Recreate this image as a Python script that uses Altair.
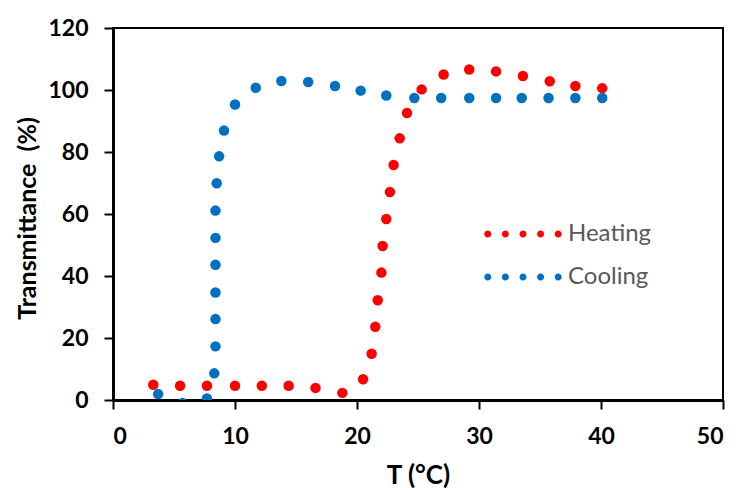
import altair as alt
import pandas as pd

# Heating series (temperature °C, transmittance %)
heat_T = [3.3, 5.5, 7.7, 10.0, 12.2, 14.4, 16.6, 18.8, 20.5, 21.2, 21.5, 21.7, 22.0,
          22.1, 22.4, 22.7, 23.0, 23.5, 24.1, 25.3, 27.1, 29.2, 31.4, 33.6, 35.8, 37.9, 40.1]
heat_Tr = [4.9, 4.6, 4.6, 4.6, 4.6, 4.6, 3.9, 2.3, 6.7, 14.9, 23.6, 32.2, 41.1,
           49.7, 58.4, 67.1, 75.8, 84.4, 92.6, 100.2, 105.0, 106.6, 106.0, 104.5, 102.8, 101.3, 100.6]

# Cooling series
cool_T = [3.7, 5.7, 7.7, 8.3, 8.4, 8.4, 8.4, 8.4, 8.4, 8.4, 8.5, 8.7, 9.1, 10.0, 11.7,
          13.8, 16.0, 18.2, 20.3, 22.4, 24.7, 26.9, 29.2, 31.4, 33.5, 35.7, 37.9, 40.1]
cool_Tr = [1.9, -1.0, 0.5, 8.6, 17.3, 26.1, 34.7, 43.6, 52.3, 61.1, 69.9, 78.6, 86.9, 95.3, 100.7,
           102.9, 102.6, 101.3, 99.8, 98.2, 97.4, 97.4, 97.4, 97.4, 97.4, 97.4, 97.4, 97.4]

series_names = ["Heating", "Cooling"]
series_colors = ["#FF0000", "#0070C0"]
x_ticks = [0, 10, 20, 30, 40, 50]
y_ticks = [0, 20, 40, 60, 80, 100, 120]

df = pd.concat([
    pd.DataFrame({"T": heat_T, "Tr": heat_Tr, "series": "Heating"}),
    pd.DataFrame({"T": cool_T, "Tr": cool_Tr, "series": "Cooling"}),
], ignore_index=True)

# legend symbol: five small dots in a row
r = 0.4
dots = []
for cx in [-4, -2, 0, 2, 4]:
    dots.append(f"M{cx - r},0A{r},{r} 0 1,0 {cx + r},0A{r},{r} 0 1,0 {cx - r},0Z")
dot_path = "".join(dots)

FONT = "Lato"

chart = alt.Chart(df).mark_circle(size=110, opacity=1, clip=True).encode(
    x=alt.X("T:Q", scale=alt.Scale(domain=[0, 50], nice=False),
            axis=alt.Axis(values=x_ticks, title="T (°C)", titleY=75,
                          titleBaseline="middle", titleFontSize=26)),
    y=alt.Y("Tr:Q", scale=alt.Scale(domain=[0, 120], nice=False),
            axis=alt.Axis(values=y_ticks, title="Transmittance\u00a0 (%)",
                          titleX=-86, titleY=190, titleAngle=270,
                          titleAlign="center", titleBaseline="middle", titleFontSize=25)),
    color=alt.Color("series:N", scale=alt.Scale(domain=series_names, range=series_colors),
                    legend=alt.Legend(title=None, orient="none", legendX=398, legendY=194,
                                      symbolType=dot_path, symbolSize=310,
                                      symbolStrokeWidth=0, labelOffset=33,
                                      rowPadding=19, labelFontSize=24, labelFont=FONT,
                                      labelColor="#595959", padding=0)),
).properties(
    width=610, height=372,
    autosize=alt.AutoSizeParams(type="none"),
    padding={"left": 105, "top": 20, "right": 12, "bottom": 90},
).configure_view(
    stroke="black", strokeWidth=2
).configure_axis(
    grid=False, domainColor="black", domainWidth=3, tickColor="black",
    tickWidth=2, tickSize=9, labelPadding=16, labelFont=FONT, labelFontSize=23,
    labelFontWeight="bold", labelColor="black", titleFont=FONT,
    titleFontWeight="bold", titleColor="black", zindex=1,
)

chart.save("out.html", embed_options={"renderer": "svg", "actions": False})
